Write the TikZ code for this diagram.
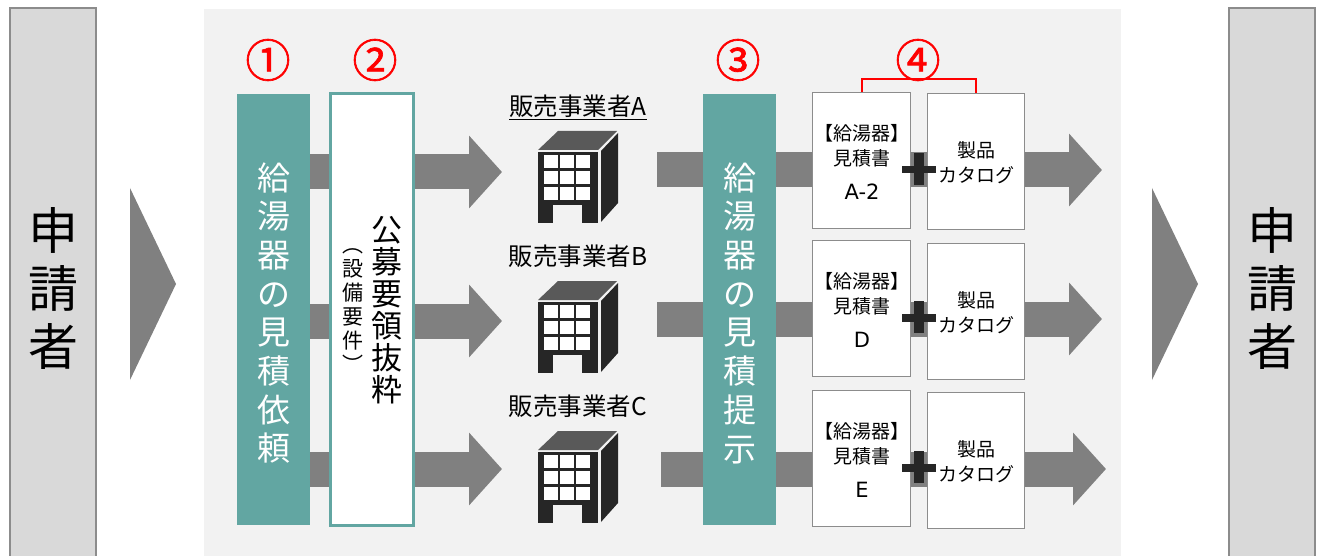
\documentclass[tikz,border=0pt]{standalone}
\usepackage{fontspec}
\setmainfont{Noto Sans CJK JP}
\newfontfamily\latinfont{DejaVu Sans}
\newfontfamily\numberfont[FakeBold=1.5]{Noto Sans CJK JP}
\usetikzlibrary{arrows.meta}
\definecolor{tealbar}{HTML}{62A6A2}
\definecolor{panelgray}{HTML}{F2F2F2}
\definecolor{arrowgray}{HTML}{808080}
\definecolor{edgegray}{HTML}{8C8C8C}
\definecolor{darkink}{HTML}{262626}

\tikzset{
  side box/.style={rectangle, draw=edgegray, line width=2pt, fill=black!15, minimum width=86pt,
                   minimum height=560pt, align=center, font=\fontsize{50}{58}\selectfont},
  teal bar/.style={rectangle, fill=tealbar, text=white, minimum width=73pt, minimum height=431pt,
                   align=center, font=\fontsize{33}{38.7}\selectfont},
  step number/.style={text=red, font=\numberfont\fontsize{45}{45}\selectfont},
  block arrow/.style={draw=arrowgray, line width=35pt, -{Triangle[length=33pt,width=71pt]}},
  paper/.style={rectangle, draw=edgegray, line width=1pt, fill=white, minimum width=97.5pt, minimum height=136pt},
  small text/.style={font=\fontsize{19}{25}\selectfont, align=center, inner sep=0pt},
  seller/.style={font=\fontsize{24.5}{24.5}\selectfont, inner sep=0pt}
}

\newcommand{\building}[1]{%
  \begin{scope}[yshift=-#1pt]
    \fill[black!65] (538,150) -- (558,131) -- (617,131) -- (598,150) -- cycle;
    \fill[darkink] (601,151) -- (618,133) -- (618,203) -- (601,222) -- cycle;
    \fill[darkink] (538,152) rectangle (598,223);
    \fill[panelgray] (553,205) rectangle (582,223);
    \foreach \wx in {544,560,576} \foreach \wy in {155,171,187}
      \fill[white] (\wx,\wy) rectangle ++(14,13);
  \end{scope}}

\begin{document}
\begin{tikzpicture}[x=1pt,y=-1pt]
  \useasboundingbox (0,0) rectangle (1320,556);
  \clip (0,0) rectangle (1320,556);

  \fill[panelgray] (204,9) rectangle (1121,556);

  % applicant on both sides
  \node[side box] (applicantL) at (52.5,288) {};
  \node[side box] (applicantR) at (1272,288) {};
  \node[font=\fontsize{50}{58}\selectfont, align=center] (nameL) at (53,288) {申\\請\\者};
  \node[font=\fontsize{50}{58}\selectfont, align=center] (nameR) at (1272,288) {申\\請\\者};
  \fill[arrowgray] (130,188) -- (176,284) -- (130,380) -- cycle;
  \fill[arrowgray] (1152,188) -- (1198,284) -- (1152,380) -- cycle;

  \node[teal bar] (request) at (273.5,309.5) {};

  % arrows run behind the boxes
  \foreach \row/\ya/\yb/\xs/\xt in {1/172/170/657/1102, 2/321/319/657/1102, 3/469/469/661/1106} {
    \coordinate (tipA\row) at (502,\ya);
    \coordinate (startB\row) at (\xs,\yb);
    \coordinate (tipB\row) at (\xt,\yb);
    \draw[block arrow] (request.east |- tipA\row) -- (tipA\row);
    \draw[block arrow] (startB\row) -- (tipB\row);
  }

  \node[font=\fontsize{33}{38.7}\selectfont, text=white, align=center] (requestText) at (273.5,313)
    {給\\湯\\器\\の\\見\\積\\依\\頼};

  \node[rectangle, draw=tealbar, line width=3pt, fill=white, minimum width=83pt, minimum height=432pt] (excerpt) at (371.5,309.5) {};
  \node[font=\fontsize{31}{32}\selectfont, align=center, inner sep=0pt] (excerptText) at (387,310)
    {公\\募\\要\\領\\抜\\粋};
  \node[font=\fontsize{21}{24}\selectfont, align=center, inner sep=0pt] (excerptNote) at (353,311)
    {︵\\設\\備\\要\\件\\︶};

  \node[teal bar] (quote) at (739.5,309.5) {};
  \node[font=\fontsize{33}{38.7}\selectfont, text=white, align=center] (quoteText) at (739.5,313)
    {給\\湯\\器\\の\\見\\積\\提\\示};

  % sellers
  \node[seller] (sellerA) at (578,107) {\underline{販売事業者A}};
  \node[seller] (sellerB) at (578,256) {販売事業者B};
  \node[seller] (sellerC) at (578,406) {販売事業者C};
  \building{0}
  \building{150}
  \building{300}

  % quotes and catalogues
  \foreach \row/\top/\ctop/\tag in {1/92/93/A-2, 2/240/243/D, 3/390/392/E} {
    \node[paper, anchor=north west] (doc\row) at (812,\top) {};
    \node[paper, anchor=north west] (cat\row) at (926.5,\ctop) {};
    \node[small text] (docHead\row) at (862,\top+53.5) {【給湯器】\\見積書};
    \node[font=\latinfont\fontsize{21}{21}\selectfont, inner sep=0pt] (docTag\row) at (862,\top+100) {\tag};
    \node[small text] (catText\row) at (976,\ctop+70) {製品\\カタログ};
    \fill[darkink] (901.5,\top+74) rectangle (936,\top+81.5);
    \fill[darkink] (914,\top+61) rectangle (924,\top+93);
  }

  % numbers on top
  \node[step number] (numA) at (268,60) {①};
  \node[step number] (numB) at (375,60) {②};
  \node[step number] (numC) at (738,60) {③};
  \node[step number] (numD) at (918,60) {④};
  \draw[red, line width=2.7pt] (doc1.north -| 862,0) -- (862,79) -- (976,79) -- (cat1.north -| 976,0);
\end{tikzpicture}
\end{document}
